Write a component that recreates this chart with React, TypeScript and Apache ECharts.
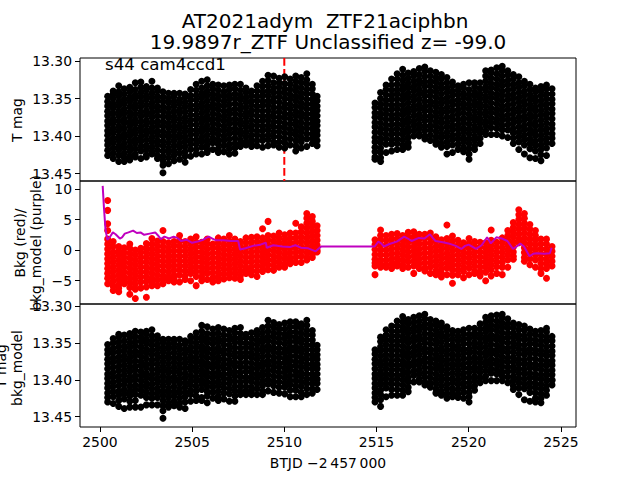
import React, { useEffect, useRef } from "react";
import * as echarts from "echarts";

const FONT = "'DejaVu Sans', sans-serif";
const titleLines = ["AT2021adym  ZTF21aciphbn", "19.9897r_ZTF Unclassified z= -99.0"];
const sectorLabel = "s44 cam4ccd1";
const xAxisName = "BTJD \u22122\u2009457\u2009000";
const xTicks = [2500, 2505, 2510, 2515, 2520, 2525];
const magTicks = [13.3, 13.35, 13.4, 13.45];
const bkgTicks = [-5, 0, 5, 10];
const transitTime = 2510;

// observation times of each column of points
const columnTimes = [
  2500.42,2500.72,2501.02,2501.32,2501.62,2501.92,2502.22,2502.52,2502.82,2503.12,2503.42,2503.72,2504.02,
  2504.32,2504.62,2504.92,2505.22,2505.52,2505.82,2506.12,2506.42,2506.72,2507.02,2507.32,2507.62,2507.92,
  2508.22,2508.52,2508.82,2509.12,2509.42,2509.72,2510.02,2510.32,2510.62,2510.92,2511.22,2511.52,2511.78,
  2514.92,2515.22,2515.52,2515.82,2516.12,2516.42,2516.72,2517.02,2517.32,2517.62,2517.92,2518.22,2518.52,
  2518.82,2519.12,2519.42,2519.72,2520.02,2520.32,2520.62,2520.92,2521.22,2521.52,2521.82,2522.12,2522.42,
  2522.72,2523.02,2523.32,2523.62,2523.92,2524.22,2524.52,
];

// T mag, in millimag above 13.3
const tMagColumns = [
  [47,54,60,67,73,80,86,93,99,106,112,119,126],
  [40,44,50,57,63,70,77,83,90,96,103,109,116,123,130],
  [33,41,47,54,60,67,73,80,87,93,100,106,113,119,126,134],
  [37,44,51,57,64,70,77,83,90,97,103,110,116,123,129,134],
  [35,41,48,54,61,68,74,81,87,94,100,107,114,120,127,132],
  [29,38,45,51,58,64,71,78,84,91,97,104,110,117,124,128],
  [28,35,42,48,55,61,68,74,81,88,94,101,107,114,120,130],
  [34,39,46,52,59,66,72,79,85,92,98,105,112,118,125,128],
  [27,36,43,49,56,62,69,75,82,89,95,102,108,115,121,124],
  [36,40,47,53,60,66,73,80,86,93,99,106,112,119,126,130],
  [41,48,54,61,67,74,81,87,94,100,107,113,120,127,133,139,149],
  [43,50,56,63,70,76,83,89,96,102,109,116,122,129,137],
  [43,47,54,60,67,74,80,87,93,100,106,113,120,126,133],
  [43,51,57,64,70,77,84,90,97,103,110,116,123,131],
  [44,48,55,61,68,75,81,88,94,101,107,114,121,127,135],
  [38,46,52,59,65,72,79,85,92,98,105,111,118,127],
  [31,39,46,52,59,65,72,78,85,92,98,105,111,118,124],
  [27,36,43,49,56,62,69,76,82,89,95,102,108,115,124],
  [25,33,40,46,53,60,66,73,79,86,92,99,106,112,118,122],
  [31,37,44,50,57,63,70,77,83,90,96,103,109,118],
  [32,39,46,52,59,65,72,78,85,92,98,105,111,117,122],
  [33,41,47,54,60,67,74,80,87,93,100,106,113,121],
  [32,38,45,51,58,65,71,78,84,91,97,104,111,117,124],
  [31,37,44,50,57,64,70,77,83,90,96,103,110,116,123],
  [31,39,46,52,59,65,72,79,85,92,98,105,111,114],
  [36,42,49,55,62,69,75,82,88,95,101,108,112],
  [40,46,53,59,66,72,79,86,92,99,105,110,114],
  [33,40,47,53,60,66,73,80,86,93,99,106,113],
  [27,34,41,47,54,60,67,74,80,87,93,100,106,115],
  [19,26,33,40,46,53,59,66,73,79,86,92,99,105,113],
  [20,29,36,42,49,55,62,69,75,82,88,95,101,108,112],
  [23,29,35,42,48,55,62,68,75,81,88,94,101,108,115],
  [21,30,37,43,50,57,63,70,76,83,89,96,103,109,116],
  [24,31,38,45,51,58,64,71,77,84,91,97,104,112],
  [20,27,34,40,47,53,60,67,73,80,86,93,99,106,113,120],
  [22,29,36,43,49,56,62,69,75,82,89,95,102,108,116],
  [17,25,31,38,44,51,58,64,71,77,84,90,97,104,114],
  [31,37,44,51,57,64,70,77,83,90,97,103,110],
  [47,53,60,66,73,80,86,93,99,106,113],
  [56,62,69,75,82,88,95,102,108,115,121,128,131],
  [42,50,57,63,70,76,83,90,96,103,109,116,122,129,134],
  [32,38,45,52,58,65,71,78,85,91,98,104,111,122],
  [24,32,39,46,52,59,65,72,78,85,92,98,105,111,120],
  [17,24,31,38,44,51,58,64,71,77,84,90,97,104,110,118],
  [11,19,26,33,39,46,52,59,66,72,79,85,92,98,105,112,118],
  [16,23,30,36,43,49,56,63,69,76,82,89,95,102,109,115],
  [14,20,27,34,40,47,53,60,66,73,80,86,93,100],
  [10,18,25,31,38,44,51,58,64,71,77,84,90,97,100],
  [8,14,21,28,34,41,47,54,61,67,74,80,87,93,100,104],
  [13,20,27,33,40,46,53,59,66,73,79,86,92,99,106],
  [15,22,28,35,41,48,55,61,68,74,81,87,94,101,107,111],
  [18,24,31,37,44,51,57,64,70,77,83,90,97,103,110,115],
  [22,29,36,42,49,55,62,68,75,82,88,95,101,108,114,124],
  [28,33,40,46,53,59,66,73,79,86,92,99,105,112,122],
  [33,39,45,52,58,65,71,78,85,91,98,104,111,118],
  [31,36,43,49,56,62,69,76,82,89,95,102,108,115,121],
  [29,38,45,51,58,64,71,77,84,91,97,104,110,117,124,131],
  [29,34,41,47,54,60,67,74,80,87,93,100,106,113,118],
  [29,37,44,50,57,63,70,77,83,90,96,103,110],
  [13,20,27,34,40,47,53,60,67,73,80,86,93,98],
  [12,16,23,30,36,43,49,56,63,69,76,82,89,98],
  [9,17,24,31,37,44,50,57,64,70,77,83,90,98],
  [7,13,20,27,33,40,46,53,60,66,73,79,86,92,100],
  [13,19,26,32,39,46,52,59,65,72,78,85,92,102],
  [18,24,31,37,44,50,57,64,70,77,83,90,96,103,110],
  [21,29,35,42,49,55,62,68,75,81,88,95,101,108,118],
  [27,33,40,46,53,59,66,73,79,86,92,99,105,112,124],
  [31,38,45,51,58,64,71,77,84,91,97,104,110,117,129],
  [36,41,48,54,61,67,74,81,87,94,100,107,113,120,130],
  [34,40,46,53,59,66,72,79,86,92,99,105,112,118,125,133],
  [32,37,44,50,57,63,70,76,83,90,96,103,109,116,126],
  [37,44,51,57,64,70,77,84,90,97,103,110],
];

// background flux, in tenths
const bkgColumns = [
  [81,65,43,32,18,10,2,-6,-14,-22,-30,-38,-46,-55],
  [14,6,-3,-11,-19,-27,-35,-43,-51,-59,-66],
  [6,-1,-8,-16,-24,-32,-40,-48,-56,-62,-68],
  [4,-4,-12,-20,-28,-36,-44,-50,-55],
  [10,3,-5,-13,-21,-29,-37,-45,-53,-61,-72],
  [0,-8,-16,-24,-32,-40,-48,-56,-64,-79],
  [3,-4,-12,-20,-28,-36,-44,-52,-62],
  [11,4,-3,-11,-19,-27,-35,-43,-51,-60,-77],
  [19,10,2,-6,-14,-22,-30,-38,-46,-52,-58],
  [15,7,-1,-9,-17,-25,-33,-41,-49,-58],
  [32,14,6,-2,-10,-18,-26,-34,-42,-48,-55],
  [12,4,-4,-12,-20,-28,-36,-44,-50],
  [14,7,-1,-9,-17,-25,-33,-41,-47,-52],
  [24,15,7,-1,-9,-17,-25,-33,-41,-52],
  [14,6,-2,-10,-18,-26,-34,-42,-48],
  [18,10,2,-6,-14,-22,-30,-38,-50],
  [22,13,5,-3,-11,-19,-27,-35,-43,-58],
  [13,5,-3,-11,-19,-27,-35,-43,-50],
  [18,10,2,-6,-14,-22,-30,-38,-48],
  [10,3,-5,-13,-21,-29,-37,-45,-52],
  [20,12,4,-4,-12,-20,-28,-36,-43,-50],
  [18,9,1,-7,-15,-23,-31,-39,-47],
  [24,15,7,-1,-9,-17,-25,-33,-39,-45],
  [18,10,2,-6,-14,-22,-30,-38,-46],
  [14,6,-2,-10,-18,-26,-34,-42,-48],
  [20,12,4,-4,-12,-20,-28,-33,-38],
  [21,13,5,-3,-11,-19,-27,-35,-40],
  [22,14,6,-2,-10,-18,-26,-34,-43],
  [35,20,12,4,-4,-12,-20,-28,-35],
  [47,24,16,8,0,-8,-16,-24,-32],
  [23,15,7,-1,-9,-17,-25,-33],
  [28,20,12,4,-4,-12,-20,-28],
  [25,17,9,1,-7,-15,-23,-28],
  [28,20,12,4,-4,-12,-18,-22],
  [44,28,20,12,4,-4,-12,-20],
  [38,30,22,14,6,-2,-10,-20],
  [60,52,44,36,28,20,12,4,-4,-12,-16],
  [55,47,39,31,23,15,7,-1,-7,-12],
  [40,32,24,16,8,0,-3],
  [17,9,1,-7,-15,-21,-26,-40],
  [33,24,16,8,0,-8,-16,-22,-28],
  [24,16,8,0,-8,-16,-24,-28],
  [26,18,10,2,-6,-14,-22,-30],
  [27,19,11,3,-5,-13,-20,-26],
  [24,16,8,0,-8,-16,-24,-30],
  [29,21,13,5,-3,-11,-19,-28],
  [30,22,14,6,-2,-10,-18,-26,-38],
  [26,18,10,2,-6,-14,-22,-30],
  [26,19,11,3,-5,-13,-21,-29,-34],
  [28,20,12,4,-4,-12,-20,-28,-38],
  [22,14,6,-2,-10,-18,-26,-34,-40],
  [17,9,1,-7,-15,-23,-31,-38,-44],
  [41,19,11,3,-5,-13,-21,-29,-40],
  [23,15,7,-1,-9,-17,-25,-33,-41,-54],
  [16,8,0,-8,-16,-24,-32,-40],
  [12,5,-3,-11,-19,-27,-35,-45],
  [19,11,3,-5,-13,-21,-29,-40],
  [14,6,-2,-10,-18,-26,-34,-38],
  [13,5,-3,-11,-19,-27,-35,-42],
  [12,4,-4,-12,-20,-28,-36,-50],
  [33,16,8,0,-8,-16,-24,-32,-42],
  [13,5,-3,-11,-19,-27,-38],
  [20,12,4,-4,-12,-20,-28,-40],
  [32,24,16,8,0,-8,-16,-28],
  [45,37,29,21,13,5,-3,-10,-15],
  [66,58,50,42,34,26,18,12],
  [60,52,44,36,28,20,12,4,-4,-12,-18],
  [42,34,26,18,10,2,-6,-14,-24],
  [32,24,16,8,0,-8,-16,-28],
  [18,10,2,-6,-14,-22,-30,-38],
  [18,10,2,-6,-14,-22,-30,-46],
  [6,-2,-10,-18,-26],
];

// detrended T mag, in millimag above 13.3
const correctedColumns = [
  [52,59,65,72,78,85,92,98,105,111,118,124,130],
  [44,50,57,63,70,76,83,90,96,103,109,116,123,132],
  [38,42,49,55,62,69,75,82,88,95,101,108,115,121,128,136],
  [39,47,54,60,67,73,80,87,93,100,106,113,119,126,139],
  [37,43,50,56,63,70,76,83,89,96,102,109,116,122,129,137],
  [34,41,48,54,61,67,74,81,87,94,100,107,113,120,128,137],
  [35,42,48,55,62,68,75,81,88,94,101,108,114,121,137],
  [34,38,45,51,58,64,71,78,84,91,97,104,110,117,124,134],
  [32,40,47,53,60,66,73,79,86,93,99,106,112,119,125,134],
  [40,45,52,58,65,71,78,85,91,98,104,111,117,124,134],
  [45,49,56,62,69,75,82,88,95,102,108,115,121,128,135,142,152],
  [45,52,58,65,71,78,85,91,98,104,111,117,124,131,137],
  [45,50,56,63,70,76,83,89,96,102,109,116,122,129,135],
  [45,53,59,66,72,79,86,92,99,105,112,118,125,132,137],
  [47,51,58,64,71,77,84,91,97,104,110,117,123,130,139],
  [41,48,55,61,68,74,81,87,94,101,107,114,120,129],
  [36,43,50,56,63,70,76,83,89,96,102,109,115,122,128],
  [26,34,41,47,54,60,67,74,80,87,93,100,106,113,124,128],
  [28,37,44,50,57,63,70,77,83,90,96,103,109,116,122,131],
  [31,38,45,51,58,65,71,78,84,91,97,104,110,117,125],
  [29,36,43,49,56,62,69,75,82,89,95,102,108,115,122,128],
  [31,39,46,52,59,65,72,79,85,92,98,105,111,118,126],
  [33,40,46,53,59,66,73,79,86,92,99,105,112,119,129],
  [30,36,43,49,56,63,69,76,82,89,95,102,109,115,122,129],
  [29,37,44,50,57,64,70,77,83,90,96,103,109,116,120],
  [38,43,50,56,63,69,76,83,89,96,102,109,115,120],
  [36,44,51,57,64,70,77,84,90,97,103,110,116,120],
  [33,39,46,52,59,66,72,79,85,92,98,105,112,120],
  [29,36,43,49,56,62,69,76,82,89,95,102,108,115,120],
  [19,27,34,41,47,54,60,67,74,80,87,93,100,106,115],
  [22,29,36,42,49,56,62,69,75,82,88,95,102,108,117],
  [25,31,37,44,50,57,64,70,77,83,90,96,103,110,118],
  [23,31,38,44,51,58,64,71,77,84,90,97,104,110,119],
  [21,28,35,41,48,55,61,68,74,81,87,94,101,107,114,123],
  [21,28,35,42,48,55,61,68,75,81,88,94,101,108,114,123],
  [24,30,37,44,50,57,63,70,76,83,90,96,103,109,117,123],
  [19,26,33,39,46,53,59,66,72,79,85,92,99,105,112,120],
  [33,39,46,52,59,66,72,79,85,92,98,105,112,118],
  [53,59,66,72,79,85,92,99,105,113],
  [59,65,72,78,85,92,98,105,111,118,124,130],
  [42,48,55,61,68,75,81,88,94,101,107,114,120,127,136],
  [32,39,46,52,59,66,72,79,85,92,98,105,111,123],
  [27,34,41,47,54,60,67,74,80,87,93,100,106,113,121],
  [20,27,34,40,47,53,60,67,73,80,86,93,99,106,113,121],
  [14,21,28,34,41,47,54,61,67,74,80,87,93,100,107,114,121],
  [18,24,31,37,44,50,57,64,70,77,83,90,97,103,110,116],
  [15,22,29,35,42,48,55,62,68,75,81,88,94,103],
  [13,20,27,33,40,46,53,59,66,73,79,86,92,99,103],
  [11,17,24,30,37,44,50,57,63,70,76,83,90,96,103,107],
  [18,25,31,38,44,51,58,64,71,77,84,90,97,104,110],
  [20,26,33,39,46,52,59,66,72,79,85,92,99,105,112,118],
  [23,29,36,42,49,56,62,69,75,82,88,95,101,108,115,121],
  [28,33,40,46,53,60,66,73,79,86,92,99,106,112,119,125],
  [33,38,45,52,58,65,71,78,84,91,98,104,111,117,123],
  [34,41,47,54,60,67,74,80,87,93,100,106,113,120,124],
  [32,38,45,51,58,64,71,78,84,91,97,104,110,117,125],
  [30,38,44,51,58,64,71,77,84,90,97,104,110,117,123,130],
  [30,36,42,49,55,62,69,75,82,88,95,101,108,114],
  [24,31,38,44,51,57,64,71,77,84,90,97,104],
  [15,22,29,35,42,48,55,62,68,75,81,88,95,101],
  [13,19,26,32,39,45,52,59,65,72,78,85,91,101],
  [12,20,27,33,40,46,53,60,66,73,79,86,92,101],
  [11,16,23,29,36,43,49,56,62,69,75,82,89,95,101],
  [17,24,30,37,43,50,57,63,70,76,83,89,96,104],
  [23,29,36,42,49,55,62,69,75,82,88,95,101,108,113],
  [25,32,39,45,52,58,65,72,78,85,91,98,104,111,120],
  [27,33,40,46,53,60,66,73,79,86,92,99,106,112,127],
  [31,38,45,51,58,64,71,78,84,91,97,104,110,117,129],
  [34,39,46,52,59,65,72,79,85,92,98,105,111,118,125,130],
  [33,40,47,53,60,66,73,80,86,93,99,106,112,119,125,131],
  [30,35,42,48,55,62,68,75,81,88,94,101,108,114,121],
  [41,47,54,61,67,74,80,87,93,100,101,107],
];

// background model (purple) times and values
const modelTimes = [
  2500.15,2500.22,2500.3,2500.4,2500.55,2500.7,2500.85,2501.08,2501.2,2501.35,2501.55,2501.8,2502.0,2502.2,
  2502.4,2502.7,2503.0,2503.15,2503.3,2503.5,2503.75,2504.0,2504.2,2504.4,2504.7,2505.0,2505.3,2505.6,
  2505.9,2506.1,2506.3,2506.7,2507.1,2507.5,2507.6,2507.9,2508.3,2508.7,2509.0,2509.05,2509.4,2509.9,
  2510.3,2510.6,2510.9,2511.3,2511.7,2512.0,2513.5,2514.9,2515.1,2515.25,2515.4,2515.7,2516.1,2516.5,
  2516.7,2516.9,2517.3,2517.6,2517.9,2518.05,2518.2,2518.6,2518.9,2519.3,2519.6,2519.8,2520.0,2520.4,
  2520.7,2521.0,2521.2,2521.5,2521.8,2522.1,2522.4,2522.6,2522.8,2523.0,2523.3,2523.5,2523.7,2524.1,
  2524.4,2524.5,
];
const modelValues = [
  10.5,6.9,3.5,1.7,2.2,2.9,2.6,1.9,2.1,2.7,2.9,3.2,2.8,2.9,
  2.5,2.7,2.9,2.4,1.8,2.2,1.9,2.2,2.0,1.5,1.7,1.2,1.4,1.7,
  2.2,1.9,1.6,1.6,1.5,1.5,0.1,0.3,0.7,0.9,1.2,0.4,0.8,0.6,
  0.5,0.8,0.4,0.3,-0.2,0.6,0.6,0.6,1.4,1.1,0.6,1.0,1.4,2.2,
  1.9,1.5,2.0,1.9,2.6,2.0,1.5,1.3,1.1,0.7,0.2,0.7,0.9,0.2,
  0.8,2.1,1.1,2.1,1.9,1.5,0.2,0.6,1.1,0.6,-1.0,-0.6,-0.5,-0.6,
  -0.5,0.4,
];

const toPoints = (columns: number[][], toValue: (n: number) => number) =>
  columns.flatMap((col, i) => col.map((n) => [columnTimes[i], toValue(n)]));

const fromMilli = (n: number) => 13.3 + n / 1000;
const fromTenth = (n: number) => n / 10;

const grids = [
  { left: 80, width: 496, top: 58, height: 123, show: true, borderColor: "#000", borderWidth: 1 },
  { left: 80, width: 496, top: 181, height: 123, show: true, borderColor: "#000", borderWidth: 1 },
  { left: 80, width: 496, top: 304, height: 123, show: true, borderColor: "#000", borderWidth: 1 },
];

const xAxis = (gridIndex: number, labelled: boolean) => ({
  type: "value",
  gridIndex,
  min: 2498.92,
  max: 2525.82,
  splitLine: { show: false },
  axisLine: { show: false },
  axisTick: { show: labelled, length: 5, customValues: xTicks, lineStyle: { color: "#000", width: 1 } },
  axisLabel: {
    show: labelled, customValues: xTicks, color: "#000", fontFamily: FONT, fontSize: 13.9, margin: 8,
    formatter: (v: number) => String(v),
  },
});

const yAxis = (gridIndex: number, min: number, max: number, ticks: number[], inverse: boolean, digits: number) => ({
  type: "value",
  gridIndex,
  min,
  max,
  inverse,
  splitLine: { show: false },
  axisLine: { show: false },
  axisTick: { show: true, length: 5, customValues: ticks, lineStyle: { color: "#000", width: 1 } },
  axisLabel: {
    customValues: ticks, color: "#000", fontFamily: FONT, fontSize: 13.9, margin: 8,
    formatter: (v: number) => v.toFixed(digits).replace("-", "\u2212"),
  },
});

const label = (text: string, x: number, y: number, size = 13.9, rotation = 0, extra: object = {}) => ({
  type: "text",
  x,
  y,
  rotation,
  z: 100,
  style: { text, fontFamily: FONT, fontSize: size, fill: "#000", align: "center", verticalAlign: "middle", ...extra },
});

export default function App() {
  const ref = useRef<HTMLDivElement>(null);
  useEffect(() => {
    const chart = echarts.init(ref.current!, undefined, { renderer: "svg" });
    const dot = { type: "scatter", symbol: "circle", symbolSize: 7, silent: true, z: 3 };
    chart.setOption({
      animation: false,
      backgroundColor: "#fff",
      grid: grids,
      xAxis: [xAxis(0, false), xAxis(1, false), xAxis(2, true)],
      yAxis: [
        yAxis(0, 13.296, 13.46, magTicks, true, 2),
        yAxis(1, -8.8, 11.3, bkgTicks, false, 0),
        yAxis(2, 13.297, 13.464, magTicks, true, 2),
      ],
      series: [
        {
          type: "line", xAxisIndex: 0, yAxisIndex: 0, symbol: "none", silent: true, z: 2,
          data: [[transitTime, 13.296], [transitTime, 13.46]],
          lineStyle: { color: "#ff0000", width: 2, type: [7.7, 3.3] },
        },
        { ...dot, xAxisIndex: 0, yAxisIndex: 0, itemStyle: { color: "#000", opacity: 1 }, data: toPoints(tMagColumns, fromMilli) },
        { ...dot, xAxisIndex: 1, yAxisIndex: 1, itemStyle: { color: "#ff0000", opacity: 1 }, data: toPoints(bkgColumns, fromTenth) },
        {
          type: "line", xAxisIndex: 1, yAxisIndex: 1, symbol: "none", silent: true, z: 4,
          data: modelTimes.map((t, i) => [t, modelValues[i]]),
          lineStyle: { color: "#bf00bf", width: 2 },
        },
        { ...dot, xAxisIndex: 2, yAxisIndex: 2, itemStyle: { color: "#000", opacity: 1 }, data: toPoints(correctedColumns, fromMilli) },
      ],
      graphic: [
        label(titleLines[0], 325, 21, 20),
        label(titleLines[1], 328, 42, 20),
        label(sectorLabel, 105, 64, 16.67, 0, { align: "left" }),
        label("T mag", 17, 120, 13.9, Math.PI / 2),
        label("Bkg (red)/", 20, 243, 13.9, Math.PI / 2),
        label("bkg_model (purple)", 36, 243, 13.9, Math.PI / 2),
        label("T mag", 1, 366, 13.9, Math.PI / 2),
        label("bkg_model", 17, 368, 13.9, Math.PI / 2),
        label(xAxisName, 328, 463, 13.9),
      ],
    });
    return () => chart.dispose();
  }, []);
  return <div ref={ref} style={{ position: "fixed", left: 0, top: 0, width: 640, height: 480 }} />;
}
